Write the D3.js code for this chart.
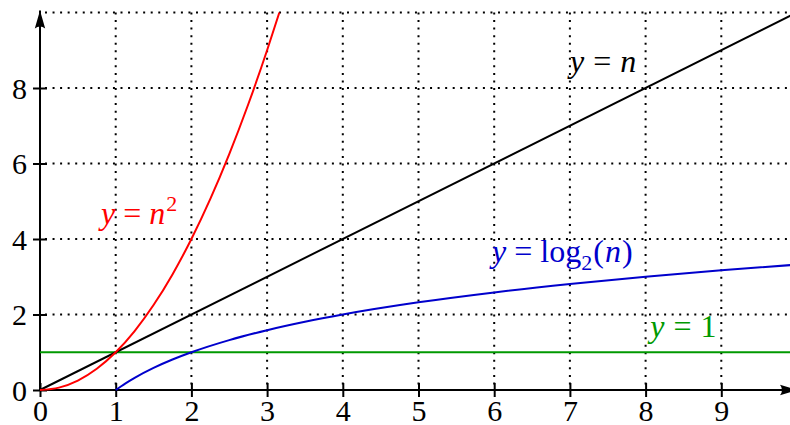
<!DOCTYPE html>
<html>
<head>
<meta charset="utf-8">
<script src="https://cdn.jsdelivr.net/npm/d3@7"></script>
<style>
  body { margin: 0; background: #fff; }
  text { font-family: "Liberation Serif", "DejaVu Serif", serif; }
</style>
</head>
<body>
<div id="chart"></div>
<script>
// valeurs des ticks et de la grille
const xTicks = [0, 1, 2, 3, 4, 5, 6, 7, 8, 9];
const yTicks = [0, 2, 4, 6, 8];
const gridX = [1, 2, 3, 4, 5, 6, 7, 8, 9, 10];
const gridY = [2, 4, 6, 8, 10];

// courbes échantillonnées
const linN = [0, 10];
const linY = [0, 10];
const sqN = [0, 0.25, 0.5, 0.75, 1, 1.25, 1.5, 1.75, 2, 2.25, 2.5, 2.75, 3, 3.162];
const sqY = [0, 0.0625, 0.25, 0.5625, 1, 1.5625, 2.25, 3.0625, 4, 5.0625, 6.25, 7.5625, 9, 10];
const logN = [1, 1.125, 1.25, 1.5, 1.75, 2, 2.5, 3, 3.5, 4, 5, 6, 7, 8, 9, 10];
const logY = [0, 0.17, 0.322, 0.585, 0.807, 1, 1.322, 1.585, 1.807, 2, 2.322, 2.585, 2.807, 3, 3.17, 3.322];
const oneN = [0, 10];
const oneY = [1, 1];

const width = 790, height = 425;

const svg = d3.select("#chart")
    .append("svg")
    .attr("width", width)
    .attr("height", height);

const x = d3.scaleLinear().domain([0, 10]).range([40, 797]);
const y = d3.scaleLinear().domain([0, 10]).range([390, 12.5]);

// grille en pointillés
const grid = svg.append("g")
    .attr("stroke", "#000")
    .attr("stroke-width", 2)
    .attr("stroke-dasharray", "2 5.55");

grid.selectAll("line.v")
    .data(gridX)
    .join("line")
    .attr("class", "v")
    .attr("x1", d => x(d)).attr("x2", d => x(d))
    .attr("y1", y(10)).attr("y2", y(0));

grid.selectAll("line.h")
    .data(gridY)
    .join("line")
    .attr("class", "h")
    .attr("y1", d => y(d)).attr("y2", d => y(d))
    .attr("x1", x(0) + 5).attr("x2", x(10));

// flèches
const defs = svg.append("defs");
defs.append("marker")
    .attr("id", "arrow")
    .attr("viewBox", "-19 -6 20 12")
    .attr("refX", 0).attr("refY", 0)
    .attr("markerUnits", "userSpaceOnUse")
    .attr("markerWidth", 20).attr("markerHeight", 12)
    .attr("orient", "auto")
    .append("path")
    .attr("d", "M0,0 L-18,-5.2 Q-14,0 -18,5.2 Z")
    .attr("fill", "#000");

svg.append("line")
    .attr("x1", x(0)).attr("x2", x(10) + 1)
    .attr("y1", y(0)).attr("y2", y(0))
    .attr("stroke", "#000").attr("stroke-width", 2)
    .attr("marker-end", "url(#arrow)");

svg.append("line")
    .attr("x1", x(0)).attr("x2", x(0))
    .attr("y1", y(0)).attr("y2", y(10) - 2)
    .attr("stroke", "#000").attr("stroke-width", 2)
    .attr("marker-end", "url(#arrow)");

// axes
const xAxis = svg.append("g")
    .attr("transform", `translate(0, ${y(0)})`)
    .call(d3.axisBottom(x).tickValues(xTicks).tickSizeOuter(0).tickFormat(d3.format("d")));
xAxis.select(".domain").remove();
xAxis.selectAll(".tick line")
    .attr("y1", -7).attr("y2", 7)
    .attr("stroke", "#000").attr("stroke-width", 2);
xAxis.selectAll(".tick text")
    .attr("y", 31).attr("dy", 0)
    .attr("fill", "#000")
    .style("font-size", "30px")
    .style("font-family", "Liberation Serif");

const yAxis = svg.append("g")
    .attr("transform", `translate(${x(0)}, 0)`)
    .call(d3.axisLeft(y).tickValues(yTicks).tickSizeOuter(0).tickFormat(d3.format("d")));
yAxis.select(".domain").remove();
yAxis.selectAll(".tick line")
    .attr("x1", -7).attr("x2", 7)
    .attr("stroke", "#000").attr("stroke-width", 2);
yAxis.selectAll(".tick text")
    .attr("x", -13).attr("dy", "0.34em")
    .attr("fill", "#000")
    .style("font-size", "30px")
    .style("font-family", "Liberation Serif");

// courbes
const line = d3.line()
    .x(d => x(d[0]))
    .y(d => y(d[1]))
    .curve(d3.curveMonotoneX);

const curves = [
    { n: oneN, v: oneY, color: "#009900" },
    { n: linN, v: linY, color: "#000000" },
    { n: logN, v: logY, color: "#0000cc" },
    { n: sqN, v: sqY, color: "#ff0000" }
];

svg.selectAll("path.curve")
    .data(curves)
    .join("path")
    .attr("class", "curve")
    .attr("d", c => line(d3.zip(c.n, c.v)))
    .attr("fill", "none")
    .attr("stroke", c => c.color)
    .attr("stroke-width", 2);

// étiquettes
const labels = [
    { at: [7.44, 8.42], color: "#000000", parts: [["y", "i"], ["=", "r", 9], ["n", "i", 9]] },
    { at: [6.9, 3.39], color: "#0000cc", parts: [["y", "i"], ["=", "r", 8], ["log", "r", 8], ["2", "sub"], ["(", "r", 1], ["n", "i", 1], [")", "r", 1]] },
    { at: [1.31, 4.4], color: "#ff0000", parts: [["y", "i"], ["=", "r", 8], ["n", "i", 8], ["2", "sup", 1]] },
    { at: [8.5, 1.4], color: "#009900", parts: [["y", "i"], ["=", "r", 9], ["1", "r", 9]] }
];

labels.forEach(l => {
    const t = svg.append("text")
        .attr("x", x(l.at[0]))
        .attr("y", y(l.at[1]))
        .attr("text-anchor", "middle")
        .attr("fill", l.color)
        .style("font-size", "32px");
    let shift = 0;
    l.parts.forEach(p => {
        const s = t.append("tspan").text(p[0]);
        let dy = 0;
        if (p[1] === "i") s.style("font-style", "italic");
        if (p[1] === "sub") { s.style("font-size", "22px"); dy = 8; }
        if (p[1] === "sup") { s.style("font-size", "22px"); dy = -13; }
        s.attr("dx", p[2] || 0).attr("dy", dy - shift);
        shift = dy;
    });
});
</script>
</body>
</html>
